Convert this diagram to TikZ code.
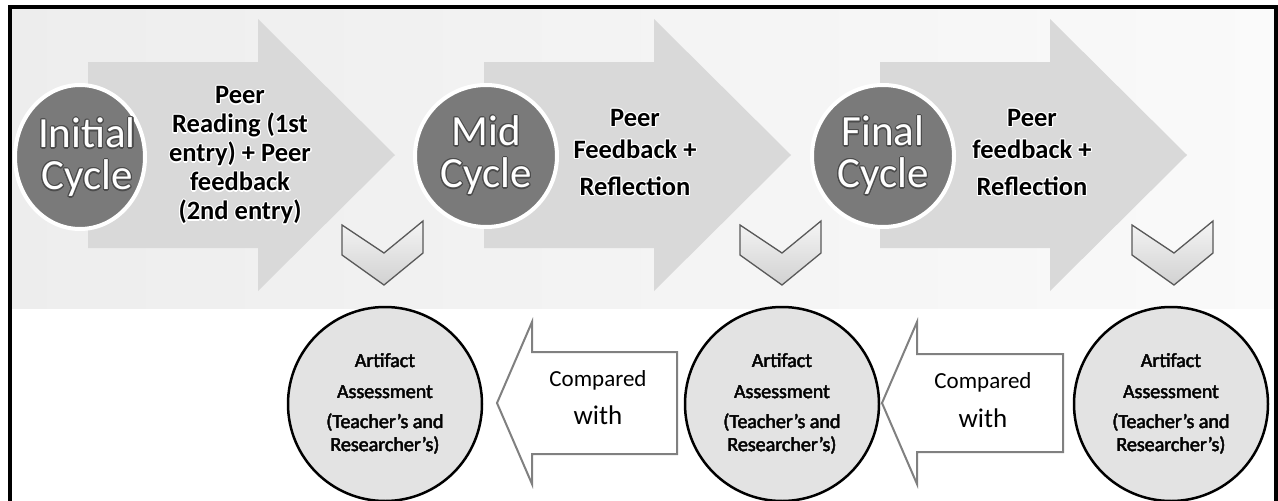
\documentclass[tikz,border=0pt]{standalone}
\usepackage{fontspec}
\setmainfont{Carlito}
\usepackage{contour}
\contourlength{1.1pt}
\usetikzlibrary{shapes.geometric}
\begin{document}
\begin{tikzpicture}[x=1pt,y=-1pt,
  bigarrow/.style={fill=black!15,draw=none},
  cyclecircle/.style={circle,fill=black!52,draw=white,line width=4pt,minimum size=142pt,inner sep=0pt,
     text=white,align=center,font=\fontsize{43}{42}\selectfont},
  cycletext/.style={text=white,align=center,inner sep=0pt,font=\fontsize{43}{42}\selectfont},
  steptext/.style={align=center,font=\bfseries\fontsize{26.5}{29}\selectfont},
  steptextb/.style={align=center,font=\bfseries\fontsize{26.5}{32}\selectfont},
  chevronshape/.style={draw=black!65,line width=1.3pt,top color=black!4,bottom color=black!18,line join=miter},
  artifact/.style={circle,draw=black,line width=2.5pt,fill=black!11,minimum size=194pt,inner sep=0pt,
     align=center,font=\fontsize{20}{23}\selectfont\contourlength{0.12pt}},
  cmparrow/.style={draw=black!50,line width=2pt,fill=white,line join=miter},
  cmptext/.style={align=center,inner sep=0pt}
]
\useasboundingbox (0,0) rectangle (1278,501);
\fill[white] (0,0) rectangle (1278,501);
% upper band
\shade[left color=black!7,right color=black!2] (12,9) rectangle (1274,308);

% big arrows
\foreach \dx in {0,396,792}{
  \fill[bigarrow] (88+\dx,62) -- (258+\dx,62) -- (258+\dx,19) -- (395+\dx,155)
    -- (258+\dx,291) -- (258+\dx,248) -- (88+\dx,248) -- cycle;
}

% cycle circles
\node[cyclecircle,ellipse,minimum width=130pt,minimum height=144pt] (c1) at (80,157) {};
\node[cycletext] (c1t) at (87,158) {\contour{black!70}{Initial}\\\contour{black!70}{Cycle}};
\node[cyclecircle] (c2) at (486,156) {\contour{black!70}{Mid}\\\contour{black!70}{Cycle}};
\node[cyclecircle] (c3) at (883,156) {\contour{black!70}{Final}\\\contour{black!70}{Cycle}};

% arrow texts
\node[steptext] (t1) at (240,156)
  {\contour{white}{Peer}\\\contour{white}{Reading (1st}\\\contour{white}{entry) + Peer}\\
   \contour{white}{feedback}\\\contour{white}{(2nd entry)}};
\node[steptextb] (t2) at (635,153)
  {\contour{white}{Peer}\\\contour{white}{Feedback +}\\[5pt]\contour{white}{Reflection}};
\node[steptextb] (t3) at (1032,153)
  {\contour{white}{Peer}\\\contour{white}{feedback +}\\[5pt]\contour{white}{Reflection}};

% chevrons
\foreach \cx/\nm in {342/v1,740/v2,1132/v3}{
  \draw[chevronshape] (\cx,225) -- (\cx+42,253) -- (\cx+81,221) -- (\cx+81,253)
     -- (\cx+42,285) -- (\cx,255) -- cycle;
}

% artifact circles
\foreach \ax/\nm in {385/a1,782/a2,1171/a3}{
  \node[artifact] (\nm) at (\ax,404)
    {\contour{black!70}{Artifact}\\[8pt]\contour{black!70}{Assessment}\\[7pt]%
     \contour{black!70}{(Teacher’s and}\\\contour{black!70}{Researcher’s)}};
}

% compared arrows
\draw[cmparrow] (677,352) -- (532,352) -- (532,322) -- (497,403) -- (532,484)
   -- (532,454) -- (677,454) -- cycle;
\draw[cmparrow] (1063,354) -- (917,354) -- (917,322) -- (882,403) -- (917,484)
   -- (917,452) -- (1063,452) -- cycle;
\node[cmptext,font=\fontsize{23}{23}\selectfont] (k1) at (598,380) {Compared};
\node[cmptext,font=\fontsize{27}{27}\selectfont] (w1) at (598,415) {with};
\node[cmptext,font=\fontsize{23}{23}\selectfont] (k2) at (983,382) {Compared};
\node[cmptext,font=\fontsize{27}{27}\selectfont] (w2) at (983,418) {with};

% frame
\draw[line width=4pt] (10,501) -- (10,7) -- (1276,7) -- (1276,501);
\end{tikzpicture}
\end{document}
